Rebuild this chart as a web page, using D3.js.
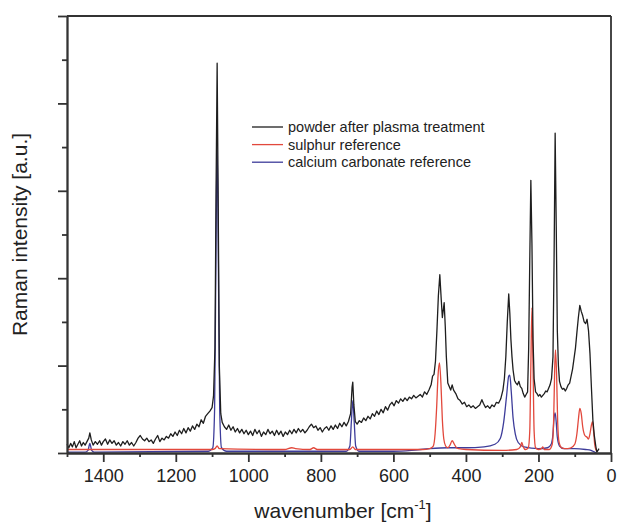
<!DOCTYPE html>
<html>
<head>
<meta charset="utf-8">
<script src="https://cdn.jsdelivr.net/npm/d3@7"></script>
<style>
  body { margin: 0; background: #fff; }
  svg { font-family: "Liberation Sans", Arial, sans-serif; }
  .axis path, .axis line { stroke: #333; stroke-width: 1.8; }
  .axis text { fill: #222; font-size: 18px; }
</style>
</head>
<body>
<div id="chart"></div>
<script>
// spectra, as [wavenumber, intensity] pairs (1 major y tick = 1 unit)
const powderData = [
  [1500,0.10],[1495,0.06],[1490,0.11],[1485,0.07],[1480,0.13],[1475,0.06],[1470,0.10],[1465,0.14],
  [1460,0.08],[1455,0.12],[1450,0.09],[1445,0.13],[1440,0.17],[1437,0.23],[1433,0.15],[1428,0.09],
  [1422,0.13],[1416,0.10],[1410,0.14],[1405,0.09],[1400,0.13],[1394,0.16],[1388,0.10],[1382,0.15],
  [1376,0.11],[1370,0.14],[1364,0.09],[1358,0.12],[1352,0.08],[1346,0.13],[1340,0.10],[1334,0.14],
  [1328,0.09],[1322,0.12],[1316,0.08],[1310,0.12],[1304,0.17],[1298,0.20],[1292,0.16],[1286,0.14],
  [1280,0.17],[1274,0.13],[1268,0.15],[1262,0.11],[1256,0.16],[1250,0.20],[1244,0.13],[1238,0.17],
  [1232,0.15],[1226,0.19],[1220,0.17],[1214,0.22],[1208,0.19],[1202,0.24],[1196,0.20],[1190,0.26],
  [1184,0.22],[1178,0.28],[1172,0.23],[1166,0.29],[1160,0.25],[1154,0.31],[1148,0.27],[1142,0.33],
  [1136,0.30],[1130,0.38],[1124,0.34],[1118,0.42],[1112,0.45],[1106,0.48],[1100,0.52],[1096,0.65],
  [1092,1.2],[1089,3.0],[1086,4.46],[1083,2.8],[1080,1.0],[1076,0.45],[1072,0.35],[1066,0.30],
  [1060,0.27],[1054,0.32],[1048,0.26],[1042,0.30],[1036,0.24],[1030,0.28],[1024,0.23],[1018,0.27],
  [1012,0.22],[1006,0.26],[1000,0.21],[994,0.25],[988,0.20],[982,0.27],[976,0.22],[970,0.26],
  [964,0.19],[958,0.24],[952,0.21],[946,0.27],[940,0.22],[934,0.25],[928,0.20],[922,0.26],
  [916,0.21],[910,0.25],[904,0.19],[898,0.24],[892,0.21],[886,0.26],[880,0.22],[874,0.27],
  [868,0.23],[862,0.28],[856,0.24],[850,0.27],[844,0.23],[838,0.26],[832,0.30],[826,0.33],
  [820,0.29],[814,0.31],[808,0.26],[802,0.29],[796,0.24],[790,0.28],[784,0.30],[778,0.26],
  [772,0.31],[766,0.27],[760,0.32],[754,0.28],[748,0.34],[742,0.30],[736,0.35],[730,0.31],
  [724,0.36],[718,0.45],[714,0.75],[712,0.81],[709,0.55],[705,0.36],[700,0.33],[694,0.37],
  [688,0.35],[682,0.40],[676,0.37],[670,0.42],[664,0.39],[658,0.45],[652,0.42],[646,0.48],
  [640,0.44],[634,0.50],[628,0.46],[622,0.53],[616,0.49],[610,0.55],[604,0.58],[598,0.54],
  [592,0.60],[586,0.57],[580,0.62],[574,0.59],[568,0.63],[562,0.60],[556,0.64],[550,0.62],
  [544,0.66],[538,0.63],[532,0.65],[526,0.67],[520,0.64],[514,0.70],[508,0.67],[502,0.72],
  [496,0.78],[492,0.88],[488,0.90],[484,1.05],[480,1.40],[476,1.80],[472,2.04],[468,1.75],
  [465,1.55],[462,1.65],[460,1.72],[457,1.45],[454,1.10],[450,0.80],[446,0.76],[442,0.72],
  [438,0.78],[434,0.72],[428,0.68],[422,0.62],[416,0.60],[410,0.56],[404,0.58],[398,0.53],
  [392,0.55],[386,0.52],[380,0.54],[374,0.51],[368,0.53],[362,0.55],[356,0.61],[352,0.57],
  [346,0.52],[340,0.54],[334,0.51],[328,0.55],[322,0.53],[316,0.58],[310,0.57],[304,0.62],
  [298,0.72],[294,0.85],[290,1.10],[286,1.50],[282,1.82],[279,1.60],[276,1.30],[273,1.10],
  [270,0.95],[266,0.83],[262,0.80],[258,0.78],[254,0.82],[250,0.76],[246,0.74],[242,0.68],
  [238,0.64],[234,0.67],[230,0.70],[227,1.20],[224,2.20],[221,3.12],[218,2.40],[215,1.30],
  [212,0.85],[208,0.70],[204,0.68],[200,0.65],[196,0.67],[192,0.64],[188,0.66],[184,0.68],
  [180,0.71],[176,0.70],[172,0.74],[168,0.78],[164,0.85],[160,1.10],[157,2.20],[154,3.66],
  [151,2.60],[148,1.40],[145,1.00],[142,0.82],[138,0.76],[134,0.73],[130,0.74],[126,0.71],
  [122,0.74],[118,0.78],[114,0.80],[110,0.88],[106,0.96],[102,1.08],[98,1.20],[94,1.38],
  [90,1.55],[86,1.69],[82,1.62],[78,1.57],[74,1.50],[70,1.48],[66,1.53],[62,1.40],
  [58,1.14],[54,0.75],[50,0.38],[46,0.20],[42,0.08],[39,0.01],[36,0.03],[33,0.05]
];

const sulphurData = [
  [1500,0.04],[1100,0.04],[1092,0.05],[1086,0.08],[1080,0.05],[900,0.04],[880,0.06],[870,0.05],
  [830,0.04],[820,0.06],[810,0.04],[720,0.04],[712,0.07],[705,0.04],[520,0.04],[500,0.05],
  [490,0.08],[485,0.22],[481,0.50],[477,0.88],[473,1.03],[469,0.80],[465,0.38],[461,0.16],
  [456,0.08],[450,0.06],[444,0.09],[438,0.14],[432,0.10],[426,0.06],[420,0.05],[400,0.04],
  [300,0.03],[260,0.04],[250,0.07],[246,0.12],[242,0.07],[236,0.04],[228,0.06],[224,0.25],
  [221,1.0],[218,1.66],[215,1.0],[212,0.25],[208,0.06],[200,0.04],[192,0.05],[188,0.07],
  [184,0.04],[170,0.04],[162,0.10],[158,0.40],[155,1.0],[153,1.18],[150,0.9],[147,0.35],
  [143,0.12],[136,0.06],[120,0.05],[110,0.06],[100,0.10],[94,0.22],[90,0.38],[86,0.51],
  [82,0.45],[78,0.30],[72,0.20],[66,0.18],[62,0.16],[58,0.22],[54,0.32],[51,0.36],
  [48,0.25],[45,0.10],[42,0.04],[38,0.02]
];

const carbonateData = [
  [1500,0.01],[1450,0.01],[1442,0.03],[1437,0.11],[1432,0.03],[1425,0.01],[1110,0.02],[1098,0.06],
  [1093,0.5],[1089,2.4],[1086,3.52],[1083,2.4],[1079,0.5],[1074,0.06],[1060,0.02],[730,0.02],
  [720,0.08],[716,0.35],[712,0.60],[708,0.35],[704,0.08],[695,0.02],[600,0.02],[550,0.03],
  [500,0.05],[450,0.06],[400,0.06],[350,0.07],[320,0.10],[305,0.17],[296,0.35],[288,0.65],
  [282,0.88],[279,0.89],[275,0.70],[270,0.40],[264,0.22],[256,0.12],[240,0.07],[200,0.05],
  [175,0.06],[165,0.10],[160,0.22],[157,0.40],[154,0.46],[151,0.35],[148,0.18],[142,0.08],
  [130,0.05],[100,0.05],[70,0.04],[55,0.03],[45,0.01],[40,0.0]
];

const xMajorTicks = [1400, 1200, 1000, 800, 600, 400, 200, 0];
const xMinorTicks = [1500, 1300, 1100, 900, 700, 500, 300, 100];
const yMajorTicks = [0, 1, 2, 3, 4, 5];
const yMinorTicks = [0.5, 1.5, 2.5, 3.5, 4.5];

const seriesNames = ['powder after plasma treatment', 'sulphur reference', 'calcium carbonate reference'];
const seriesColors = ['#1e1e1e', '#e2483c', '#3d3c9a'];

const W = 617, H = 524;
const margin = { top: 16, right: 6, bottom: 71, left: 67 };
const width = W - margin.left - margin.right;
const height = H - margin.top - margin.bottom;

const svg = d3.select('#chart').append('svg')
  .attr('width', W)
  .attr('height', H);

const x = d3.scaleLinear().domain([1500, 0]).range([margin.left, margin.left + width]);
const y = d3.scaleLinear().domain([0, 5]).range([margin.top + height, margin.top]);

// spectra first, frame on top. the measured one stays jagged, references smooth
const smoothLine = d3.line()
  .x(d => x(d[0]))
  .y(d => y(d[1]))
  .curve(d3.curveMonotoneX);
const rawLine = d3.line()
  .x(d => x(d[0]))
  .y(d => y(d[1]));

const plot = svg.append('g');
plot.append('path').datum(carbonateData)
  .attr('fill', 'none').attr('stroke', seriesColors[2]).attr('stroke-width', 1.3)
  .attr('d', smoothLine);
plot.append('path').datum(sulphurData)
  .attr('fill', 'none').attr('stroke', seriesColors[1]).attr('stroke-width', 1.3)
  .attr('d', smoothLine);
plot.append('path').datum(powderData)
  .attr('fill', 'none').attr('stroke', seriesColors[0]).attr('stroke-width', 1.3)
  .attr('stroke-linejoin', 'round')
  .attr('d', rawLine);

// bottom axis: labelled majors + short minors
svg.append('g')
  .attr('class', 'axis')
  .attr('transform', 'translate(0,' + y(0) + ')')
  .call(d3.axisBottom(x).tickValues(xMinorTicks).tickSize(4).tickSizeOuter(0).tickFormat(''));

svg.append('g')
  .attr('class', 'axis')
  .attr('transform', 'translate(0,' + y(0) + ')')
  .call(d3.axisBottom(x).tickValues(xMajorTicks).tickSize(9).tickSizeOuter(0)
    .tickPadding(7).tickFormat(d3.format('d')));

// left axis: ticks only, no labels
svg.append('g')
  .attr('class', 'axis')
  .attr('transform', 'translate(' + x(1500) + ',0)')
  .call(d3.axisLeft(y).tickValues(yMinorTicks).tickSize(5).tickSizeOuter(0).tickFormat(''));

svg.append('g')
  .attr('class', 'axis')
  .attr('transform', 'translate(' + x(1500) + ',0)')
  .call(d3.axisLeft(y).tickValues(yMajorTicks).tickSize(9).tickSizeOuter(0).tickFormat(''));

// top and right frame
svg.append('line')
  .attr('x1', x(1500)).attr('y1', y(5))
  .attr('x2', x(0)).attr('y2', y(5))
  .attr('stroke', '#333').attr('stroke-width', 1.8);
svg.append('line')
  .attr('x1', x(0)).attr('y1', y(5))
  .attr('x2', x(0)).attr('y2', y(0))
  .attr('stroke', '#333').attr('stroke-width', 1.8);

// axis titles
const xTitle = svg.append('text')
  .attr('x', 343)
  .attr('y', 518)
  .attr('text-anchor', 'middle')
  .attr('font-size', 21)
  .attr('fill', '#222')
  .text('wavenumber [cm');
xTitle.append('tspan').attr('font-size', 13).attr('dy', -9).text('-1');
xTitle.append('tspan').attr('dy', 9).text(']');

svg.append('text')
  .attr('transform', 'translate(27,' + ((y(0) + y(5)) / 2) + ') rotate(-90)')
  .attr('text-anchor', 'middle')
  .attr('font-size', 21)
  .attr('fill', '#222')
  .text('Raman intensity [a.u.]');

// legend
const legend = svg.append('g').attr('transform', 'translate(252,127)');
seriesNames.forEach((name, i) => {
  const row = legend.append('g').attr('transform', 'translate(0,' + (i * 17.6) + ')');
  row.append('line')
    .attr('x1', 0).attr('x2', 31)
    .attr('stroke', seriesColors[i])
    .attr('stroke-width', 1.3);
  row.append('text')
    .attr('x', 36)
    .attr('dy', '0.35em')
    .attr('font-size', 14.5)
    .attr('fill', '#222')
    .text(name);
});
</script>
</body>
</html>
